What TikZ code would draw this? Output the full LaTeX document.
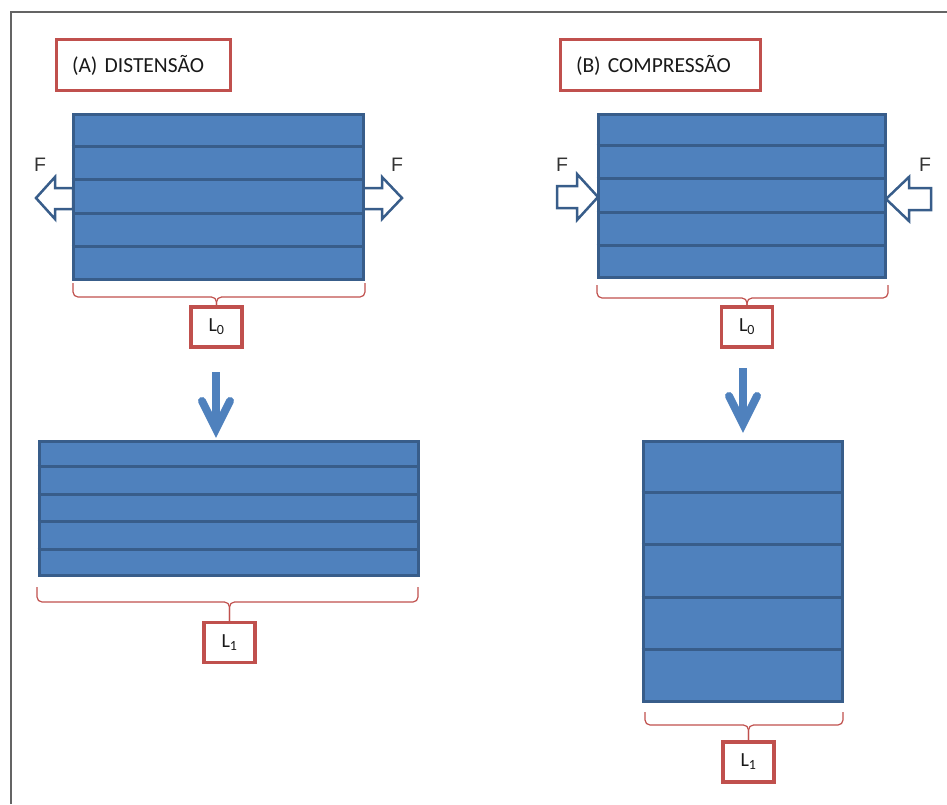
\documentclass[tikz,border=0pt]{standalone}
\usepackage{fontspec}
\setmainfont{Carlito}
\newfontfamily\labelfont{Liberation Sans}
\usetikzlibrary{calc}
\definecolor{barfill}{RGB}{79,129,189}
\definecolor{barline}{RGB}{56,93,138}
\definecolor{boxred}{RGB}{192,80,77}
\definecolor{framegray}{RGB}{100,100,100}
\tikzset{
  titlebox/.style={draw=boxred, line width=3pt, anchor=west, minimum height=51pt,
    inner xsep=16pt, align=left, font=\fontsize{21.5}{24}\selectfont, text=black!90},
  lenbox/.style={draw=boxred, line width=3.5pt, minimum width=51pt, minimum height=40pt,
    inner sep=0pt, font=\fontsize{20}{22}\selectfont, text=black!90},
  block/.style={draw=barline, fill=barfill, line width=3pt, inner sep=0pt},
  stripline/.style={barline, line width=3pt},
  forcearrow/.style={draw=barline, fill=white, line width=2.5pt, line join=miter},
  forcelabel/.style={inner sep=0pt, font=\labelfont\fontsize{19.5}{22}\selectfont, text=black!80},
  bracket/.style={boxred, line width=1.2pt, rounded corners=5pt},
  downshaft/.style={barfill, line width=8pt},
  downhead/.style={barfill, line width=8pt, line cap=round, line join=miter},
}
\begin{document}
\begin{tikzpicture}[x=1pt, y=-1pt]
\useasboundingbox (0,0) rectangle (947,804);
\draw[framegray, line width=2pt] (11,804) -- (11,12) -- (947,12);

% titles
\node[titlebox, text width=142pt] (titA) at (54.5,65) {(A) DISTENSÃO};
\node[titlebox, text width=168pt] (titB) at (558.5,65) {(B) COMPRESSÃO};

% force arrows
\draw[forcearrow] (73,188) -- (55,188) -- (55,177) -- (36,198) -- (55,219) -- (55,209) -- (73,209) -- cycle;
\draw[forcearrow] (363,188) -- (382,188) -- (382,177) -- (402,198) -- (382,219) -- (382,209) -- (363,209) -- cycle;
\draw[forcearrow] (557,186) -- (577,186) -- (577,174) -- (598,197) -- (577,220) -- (577,208) -- (557,208) -- cycle;
\draw[forcearrow] (931,188) -- (909,188) -- (909,177) -- (886,199) -- (909,221) -- (909,210) -- (931,210) -- cycle;
\node[forcelabel] (fA1) at (40,165) {F};
\node[forcelabel] (fA2) at (397,165) {F};
\node[forcelabel] (fB1) at (562,165) {F};
\node[forcelabel] (fB2) at (925,165) {F};

% blocks
\node[block, minimum width=290pt, minimum height=165pt] (topA) at (218,196.5) {};
\node[block, minimum width=287pt, minimum height=163pt] (topB) at (741.5,195.5) {};
\node[block, minimum width=379pt, minimum height=134pt] (botA) at (228.5,508) {};
\node[block, minimum width=199pt, minimum height=260pt] (botB) at (742.5,571) {};
\foreach \blk in {topA,topB,botA,botB}
  \foreach \i in {1,...,4}
    \draw[stripline] ($(\blk.north west)!\i/5!(\blk.south west)$) -- ($(\blk.north east)!\i/5!(\blk.south east)$);

% lengths
\node[lenbox] (l0A) at (216.5,327) {L\textsubscript{0}};
\node[lenbox] (l0B) at (747,327) {L\textsubscript{0}};
\node[lenbox] (l1A) at (229.5,642.5) {L\textsubscript{1}};
\node[lenbox] (l1B) at (748.5,762) {L\textsubscript{1}};

\draw[bracket] (73,283) -- (73,297) -- (l0A.north |- 0,297) -- (l0A.north);
\draw[bracket] (365,283) -- (365,297) -- (l0A.north |- 0,297) -- (l0A.north);
\draw[bracket] (597,285) -- (597,298) -- (l0B.north |- 0,298) -- (l0B.north);
\draw[bracket] (888,285) -- (888,298) -- (l0B.north |- 0,298) -- (l0B.north);
\draw[bracket] (37,587) -- (37,602) -- (l1A.north |- 0,602) -- (l1A.north);
\draw[bracket] (418,587) -- (418,602) -- (l1A.north |- 0,602) -- (l1A.north);
\draw[bracket] (645,712) -- (645,725) -- (l1B.north |- 0,725) -- (l1B.north);
\draw[bracket] (843,712) -- (843,725) -- (l1B.north |- 0,725) -- (l1B.north);

% down arrows
\draw[downshaft] (216,372) -- (216,425);
\draw[downhead] (202,401) -- (216,429) -- (230,401);
\draw[downshaft] (743,368) -- (743,420);
\draw[downhead] (729,396) -- (743,424) -- (757,396);
\end{tikzpicture}
\end{document}
